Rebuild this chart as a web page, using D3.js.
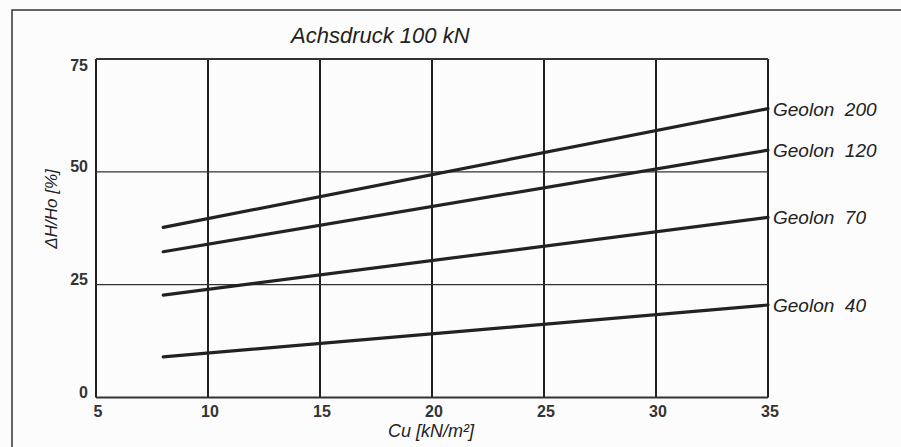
<!DOCTYPE html>
<html><head><meta charset="utf-8">
<script src="https://cdn.jsdelivr.net/npm/d3@7"></script>
<style>
html,body{margin:0;padding:0;background:#fcfcfc;}
text{font-family:"Liberation Sans",Arial,Helvetica,sans-serif;fill:#222;}
</style></head>
<body>
<script>
// ---- data ----
const xTicks = [5, 10, 15, 20, 25, 30, 35];
const yTicks = [0, 25, 50, 75];
const cuValues = [8, 35];
const seriesNames = ["Geolon 200", "Geolon 120", "Geolon 70", "Geolon 40"];
const geolon200 = [37.7, 64.0];
const geolon120 = [32.3, 54.8];
const geolon70  = [22.7, 39.9];
const geolon40  = [9.0, 20.5];
const seriesValues = [geolon200, geolon120, geolon70, geolon40];
const titleText = "Achsdruck 100 kN";
const xTitle = "Cu [kN/m²]";
const yTitle = "\u0394H/Ho [%]";

const W = 901, H = 447;
const svg = d3.select("body").append("svg").attr("width", W).attr("height", H);
svg.append("rect").attr("width", W).attr("height", H).attr("fill", "#fcfcfc");

// outer frame (extends past right/bottom edges)
svg.append("rect").attr("x", 12).attr("y", 10).attr("width", 960).attr("height", 500)
  .attr("fill", "none").attr("stroke", "#333").attr("stroke-width", 1.5);

const x = d3.scaleLinear().domain([5, 35]).range([96, 768]);
const y = d3.scaleLinear().domain([0, 75]).range([397.5, 59]);

// grid: verticals
svg.append("g").selectAll("line").data(xTicks).join("line")
  .attr("x1", d => x(d)).attr("x2", d => x(d))
  .attr("y1", y(75)).attr("y2", y(0))
  .attr("stroke", "#222").attr("stroke-width", 2);
// grid: horizontals
svg.append("g").selectAll("line").data(yTicks).join("line")
  .attr("x1", x(5)).attr("x2", x(35))
  .attr("y1", d => y(d)).attr("y2", d => y(d))
  .attr("stroke", "#333").attr("stroke-width", d => (d === 0 || d === 75) ? 2 : 1.3);

// x axis tick labels
svg.append("g").selectAll("text").data(xTicks).join("text")
  .attr("x", d => x(d) + 2).attr("y", 417)
  .attr("text-anchor", "middle").attr("font-size", 16).attr("font-weight", "bold")
  .style("fill", "#333")
  .text(d => d);
// y axis tick labels
svg.append("g").selectAll("text").data(yTicks).join("text")
  .attr("x", 88).attr("y", d => d === 75 ? y(d) + 12 : y(d))
  .attr("text-anchor", "end").attr("font-size", 16).attr("font-weight", "bold")
  .style("fill", "#333")
  .text(d => d);

// series lines
const line = d3.line().x((d, i) => x(cuValues[i])).y(d => y(d));
svg.append("g").selectAll("path").data(seriesValues).join("path")
  .attr("d", d => line(d))
  .attr("fill", "none").attr("stroke", "#222").attr("stroke-width", 3.2)
  .attr("stroke-linecap", "round");

// series labels
svg.append("g").selectAll("text").data(seriesNames).join("text")
  .attr("x", x(35) + 5)
  .attr("y", (d, i) => y(seriesValues[i][1]) + 7)
  .attr("font-size", 19).attr("font-style", "italic")
  .attr("xml:space", "preserve").style("white-space", "pre")
  .text(d => d.replace(" ", "  "));

// title
svg.append("text").attr("x", 291).attr("y", 43)
  .attr("font-size", 22).attr("font-style", "italic")
  .text(titleText);

// x title
svg.append("text").attr("x", 431).attr("y", 437)
  .attr("text-anchor", "middle").attr("font-size", 18).attr("font-style", "italic")
  .text(xTitle);

// y title
svg.append("text").attr("transform", "translate(57,209) rotate(-90)")
  .attr("text-anchor", "middle").attr("font-size", 17).attr("font-style", "italic")
  .text(yTitle);
</script>
</body></html>
